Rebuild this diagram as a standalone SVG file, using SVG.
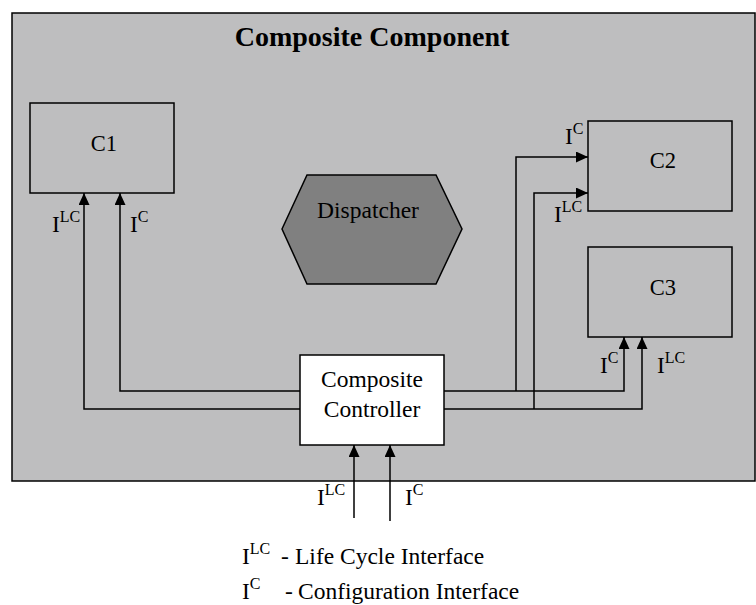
<svg xmlns="http://www.w3.org/2000/svg" width="756" height="605" viewBox="0 0 756 605">
<defs>
<style>
text{font-family:"Liberation Serif","Times New Roman",serif;font-size:23.5px;fill:#000}
.title{font-size:28px;font-weight:bold}
.small{font-size:22.5px}
.box{fill:none;stroke:#000;stroke-width:1.5}
.conn{fill:none;stroke:#000;stroke-width:1.5}
.sup{font-size:16px}
</style>
<marker id="arr" markerUnits="userSpaceOnUse" markerWidth="12" markerHeight="12" refX="12" refY="5.5" orient="auto">
<path d="M0,0 L12,5.5 L0,11 z" fill="#000"/>
</marker>
</defs>
<rect width="756" height="605" fill="#fff"/>
<g id="composite">
<rect x="12" y="13" width="743" height="468" fill="#bebebf" stroke="#000" stroke-width="1.5"/>
<text class="title" x="372" y="46" text-anchor="middle">Composite Component</text>
</g>
<g id="c1">
<rect class="box" x="30" y="103" width="144" height="90"/>
<text class="small" x="104" y="151" text-anchor="middle">C1</text>
</g>
<g id="c2">
<rect class="box" x="588" y="121" width="144" height="90"/>
<text class="small" x="663" y="168" text-anchor="middle">C2</text>
</g>
<g id="c3">
<rect class="box" x="588" y="247" width="144" height="90"/>
<text class="small" x="663" y="295" text-anchor="middle">C3</text>
</g>
<g id="dispatcher">
<polygon points="282,229 307,175 436,175 462,229 436,284 307,284" fill="#808080" stroke="#000" stroke-width="1.5"/>
<text x="368" y="218" text-anchor="middle">Dispatcher</text>
</g>
<g id="controller">
<rect x="300" y="355" width="144" height="90" fill="#fff" stroke="#000" stroke-width="1.5"/>
<text x="372" y="387" text-anchor="middle">Composite</text>
<text x="372" y="417" text-anchor="middle">Controller</text>
</g>
<g id="connectors">
<polyline class="conn" points="300,409 84,409 84,193" marker-end="url(#arr)"/>
<polyline class="conn" points="300,391 120,391 120,193" marker-end="url(#arr)"/>
<polyline class="conn" points="444,391 624,391 624,337" marker-end="url(#arr)"/>
<polyline class="conn" points="444,409 642,409 642,337" marker-end="url(#arr)"/>
<polyline class="conn" points="516,391 516,157 588,157" marker-end="url(#arr)"/>
<polyline class="conn" points="534,409 534,193 588,193" marker-end="url(#arr)"/>
<line class="conn" x1="354" y1="518" x2="354" y2="445" marker-end="url(#arr)"/>
<line class="conn" x1="390" y1="521" x2="390" y2="445" marker-end="url(#arr)"/>
</g>
<g id="labels">
<text x="52" y="232">I<tspan class="sup" dy="-10">LC</tspan></text>
<text x="130" y="232">I<tspan class="sup" dy="-10">C</tspan></text>
<text x="565" y="144">I<tspan class="sup" dy="-10">C</tspan></text>
<text x="554" y="222">I<tspan class="sup" dy="-10">LC</tspan></text>
<text x="600" y="373">I<tspan class="sup" dy="-10">C</tspan></text>
<text x="657" y="373">I<tspan class="sup" dy="-10">LC</tspan></text>
<text x="317" y="505">I<tspan class="sup" dy="-10">LC</tspan></text>
<text x="405" y="505">I<tspan class="sup" dy="-10">C</tspan></text>
</g>
<g id="legend">
<text x="242" y="564">I<tspan class="sup" dy="-10">LC</tspan></text>
<text x="281" y="564">-</text>
<text x="295" y="564">Life Cycle Interface</text>
<text x="242" y="599">I<tspan class="sup" dy="-10">C</tspan></text>
<text x="285" y="599">-</text>
<text x="298" y="599">Configuration Interface</text>
</g>
</svg>
